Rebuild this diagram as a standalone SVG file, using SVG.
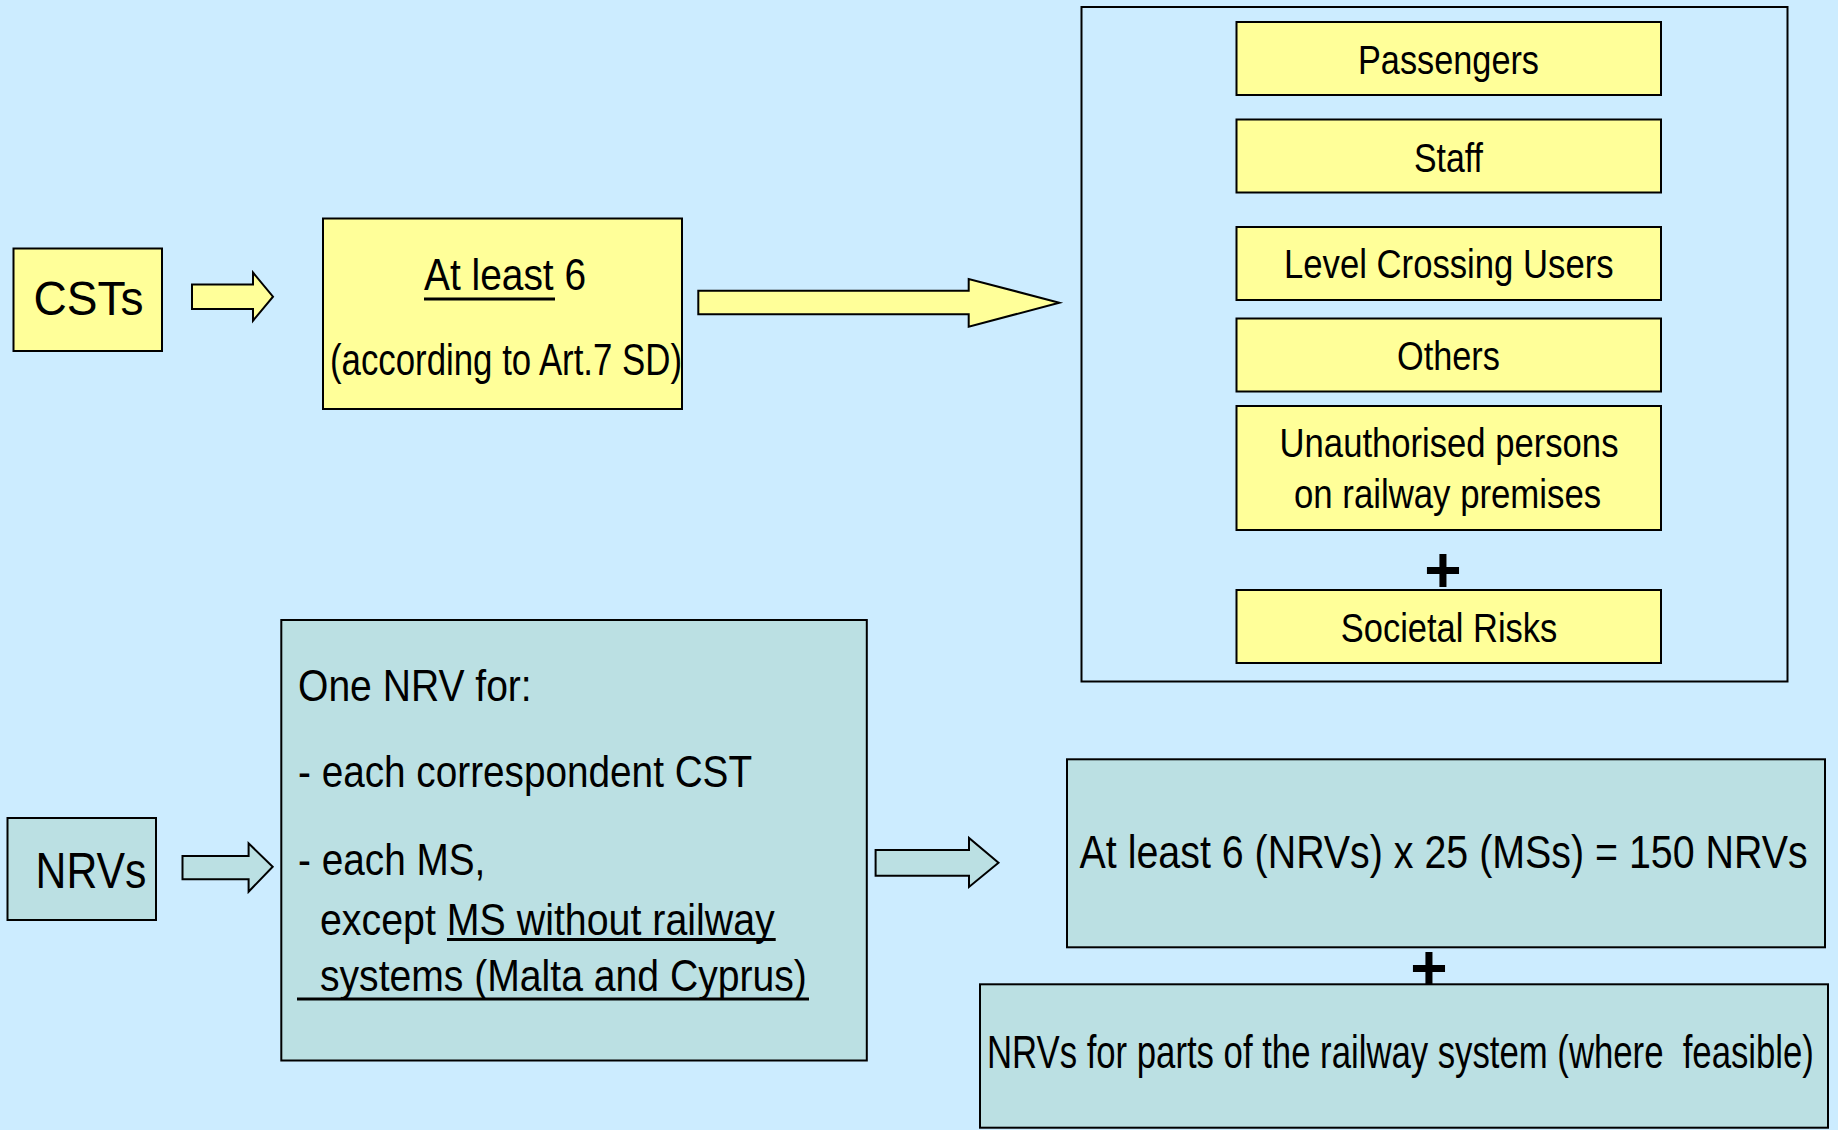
<svg xmlns="http://www.w3.org/2000/svg" width="1838" height="1130" viewBox="0 0 1838 1130">
<style>
text{font-family:"Liberation Sans",Arial,sans-serif;fill:#000}
.y{fill:#FFFF99;stroke:#000;stroke-width:2}
.t{fill:#BBE0E3;stroke:#000;stroke-width:2}
.frame{fill:none;stroke:#000;stroke-width:2}
.ul{stroke:#000;stroke-width:3}
.plus{font-weight:bold;font-size:64px}
</style>
<rect width="1838" height="1130" fill="#CCECFF"/>
<g id="connectors">
<polygon class="y" stroke-width="1.5" points="192,284.5 253,284.5 253,272.5 273,296.7 253,320.7 253,309 192,309"/>
<polygon class="y" points="698.3,290.7 968.7,290.7 968.7,279 1059.3,302.7 968.7,326.7 968.7,314.3 698.3,314.3"/>
<polygon class="t" stroke-width="1.5" points="182.5,856 248.6,856 248.6,843.3 272.7,866.7 248.6,891.7 248.6,879.3 182.5,879.3"/>
<polygon class="t" stroke-width="1.5" points="875.6,850 969,850 969,838 998.5,862.7 969,887 969,875.7 875.6,875.7"/>
</g>
<g id="csts">
<rect class="y" x="13.5" y="248.5" width="148.5" height="102.5"/>
<text transform="translate(33.5,315) scale(0.898,1)" font-size="49" textLength="122.5" lengthAdjust="spacingAndGlyphs">CSTs</text>
</g>
<g id="atleast6">
<rect class="y" x="323" y="218.5" width="359" height="190.5"/>
<text transform="translate(424,290) scale(0.864,1)" font-size="45" textLength="187.6" lengthAdjust="spacingAndGlyphs">At least 6</text>
<line class="ul" x1="424" y1="299" x2="555" y2="299"/>
<text transform="translate(330,375) scale(0.769,1)" font-size="45" textLength="457.7" lengthAdjust="spacingAndGlyphs">(according to Art.7 SD)</text>
</g>
<g id="categories">
<rect class="frame" x="1081.5" y="7" width="706" height="674.5"/>
<g id="passengers"><rect class="y" x="1236.5" y="22" width="424.5" height="73"/>
<text transform="translate(1358,74) scale(0.836,1)" font-size="41" textLength="216.5" lengthAdjust="spacingAndGlyphs">Passengers</text></g>
<g id="staff"><rect class="y" x="1236.5" y="119.5" width="424.5" height="73"/>
<text transform="translate(1414,171.5) scale(0.818,1)" font-size="41" textLength="84.3" lengthAdjust="spacingAndGlyphs">Staff</text></g>
<g id="lcu"><rect class="y" x="1236.5" y="227" width="424.5" height="73"/>
<text transform="translate(1284,278.3) scale(0.846,1)" font-size="41" textLength="389.6" lengthAdjust="spacingAndGlyphs">Level Crossing Users</text></g>
<g id="others"><rect class="y" x="1236.5" y="318.5" width="424.5" height="73"/>
<text transform="translate(1397,370) scale(0.837,1)" font-size="41" textLength="123" lengthAdjust="spacingAndGlyphs">Others</text></g>
<g id="unauth"><rect class="y" x="1236.5" y="406" width="424.5" height="124"/>
<text transform="translate(1279.6,456.7) scale(0.845,1)" font-size="41" textLength="401" lengthAdjust="spacingAndGlyphs">Unauthorised persons</text>
<text transform="translate(1294,508.3) scale(0.848,1)" font-size="41" textLength="362.2" lengthAdjust="spacingAndGlyphs">on railway premises</text></g>
<text class="plus" x="1443" y="592" text-anchor="middle">+</text>
<g id="societal"><rect class="y" x="1236.5" y="590" width="424.5" height="73"/>
<text transform="translate(1340.8,641.7) scale(0.841,1)" font-size="41" textLength="257.4" lengthAdjust="spacingAndGlyphs">Societal Risks</text></g>
</g>
<g id="nrvs">
<rect class="t" x="7.5" y="818" width="148.5" height="102"/>
<text transform="translate(35.6,888.3) scale(0.849,1)" font-size="50" textLength="130.6" lengthAdjust="spacingAndGlyphs">NRVs</text>
</g>
<g id="onenrv">
<rect class="t" x="281.3" y="620" width="585.5" height="440.5"/>
<text transform="translate(298,701) scale(0.885,1)" font-size="44" textLength="264.1" lengthAdjust="spacingAndGlyphs">One NRV for:</text>
<text transform="translate(298,786.7) scale(0.88,1)" font-size="44" textLength="516" lengthAdjust="spacingAndGlyphs">- each correspondent CST</text>
<text transform="translate(298,875) scale(0.881,1)" font-size="44" textLength="212.7" lengthAdjust="spacingAndGlyphs">- each MS,</text>
<text transform="translate(320,935) scale(0.894,1)" font-size="44" textLength="508.6" lengthAdjust="spacingAndGlyphs">except MS without railway</text>
<line class="ul" x1="447" y1="939.5" x2="775.7" y2="939.5"/>
<text transform="translate(320,991) scale(0.926,1)" font-size="44" textLength="525.7" lengthAdjust="spacingAndGlyphs">systems (Malta and Cyprus)</text>
<line class="ul" x1="297" y1="999" x2="809" y2="999"/>
</g>
<g id="total">
<rect class="t" x="1067" y="759.3" width="758" height="188"/>
<text transform="translate(1079.6,868.3) scale(0.854,1)" font-size="46" textLength="852.5" lengthAdjust="spacingAndGlyphs">At least 6 (NRVs) x 25 (MSs) = 150 NRVs</text>
</g>
<text class="plus" x="1429" y="990" text-anchor="middle">+</text>
<g id="parts">
<rect class="t" x="980" y="984.3" width="848" height="143.4"/>
<text transform="translate(987,1068) scale(0.738,1)" font-size="47" textLength="1120.5" lengthAdjust="spacingAndGlyphs" xml:space="preserve">NRVs for parts of the railway system (where  feasible)</text>
</g>
</svg>
